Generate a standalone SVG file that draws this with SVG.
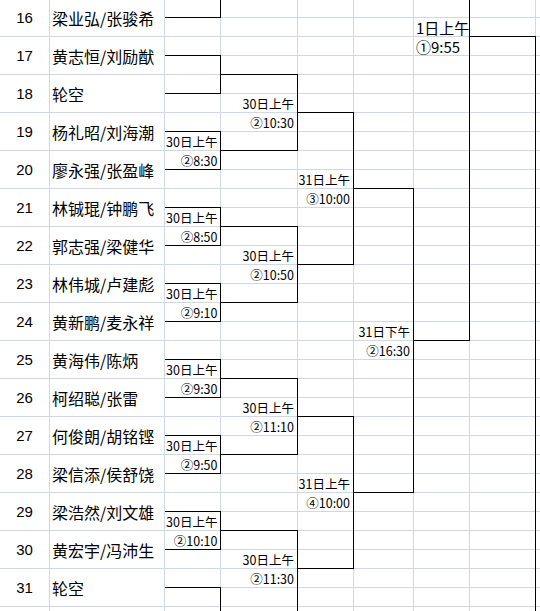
<svg xmlns="http://www.w3.org/2000/svg" width="540" height="611" viewBox="0 0 540 611">
<style>
.grid{fill:none;stroke:#d0d7e5;stroke-width:1;shape-rendering:crispEdges}
.br{fill:none;stroke:#000;stroke-width:1;shape-rendering:crispEdges}
.num{font-family:"Liberation Sans","DejaVu Sans",sans-serif;font-size:15px;fill:#000;text-anchor:middle}
.name{font-family:"Noto Sans CJK SC",sans-serif;font-size:16px;fill:#000}
.lb{font-family:"Noto Sans CJK SC",sans-serif;font-size:12.5px;fill:#000;text-anchor:end}
.lbe{font-family:"Noto Sans CJK SC",sans-serif;font-size:15px;fill:#000}
</style>
<rect width="540" height="611" fill="#fff"/>
<g id="grid">
<path class="grid" d="M49.5 0V611M164.5 0V611M220.5 0V611M297.5 0V611M353.5 0V611M413.5 0V611M469.5 0V611M535.5 0V611"/>
<path class="grid" d="M0 36.5H164M0 74.5H164M0 112.5H164M0 150.5H164M0 188.5H164M0 226.5H164M0 264.5H164M0 302.5H164M0 340.5H164M0 378.5H164M0 416.5H164M0 454.5H164M0 492.5H164M0 530.5H164M0 568.5H164M0 606.5H164"/>
<path class="grid" d="M164 17.5H540M164 36.5H540M164 55.5H540M164 74.5H540M164 93.5H540M164 112.5H540M164 131.5H540M164 150.5H540M164 169.5H540M164 188.5H540M164 207.5H540M164 226.5H540M164 245.5H540M164 264.5H540M164 283.5H540M164 302.5H540M164 321.5H540M164 340.5H540M164 359.5H540M164 378.5H540M164 397.5H540M164 416.5H540M164 435.5H540M164 454.5H540M164 473.5H540M164 492.5H540M164 511.5H540M164 530.5H540M164 549.5H540M164 568.5H540M164 587.5H540M164 606.5H540"/>
</g>
<g id="connectors">
<path class="br" d="M164.5 17.5H220.5V0"/>
<path class="br" d="M164.5 55.5H220.5V93.5H164.5"/>
<path class="br" d="M164.5 131.5H220.5V169.5H164.5"/>
<path class="br" d="M164.5 207.5H220.5V245.5H164.5"/>
<path class="br" d="M164.5 283.5H220.5V321.5H164.5"/>
<path class="br" d="M164.5 359.5H220.5V397.5H164.5"/>
<path class="br" d="M164.5 435.5H220.5V473.5H164.5"/>
<path class="br" d="M164.5 511.5H220.5V549.5H164.5"/>
<path class="br" d="M164.5 587.5H220.5V611"/>
<path class="br" d="M220.5 74.5H297.5V150.5H220.5"/>
<path class="br" d="M220.5 226.5H297.5V302.5H220.5"/>
<path class="br" d="M220.5 378.5H297.5V454.5H220.5"/>
<path class="br" d="M220.5 530.5H297.5V611"/>
<path class="br" d="M297.5 112.5H353.5V264.5H297.5"/>
<path class="br" d="M297.5 416.5H353.5V568.5H297.5"/>
<path class="br" d="M353.5 188.5H413.5V492.5H353.5"/>
<path class="br" d="M413.5 340.5H469.5V0"/>
<path class="br" d="M469.5 36.5H535.5V611"/>
</g>
<g id="p16"><text class="num" x="24.5" y="23">16</text><text class="name" x="52" y="24.5">梁业弘/张骏希</text></g>
<g id="p17"><text class="num" x="24.5" y="61">17</text><text class="name" x="52" y="62.5">黄志恒/刘励猷</text></g>
<g id="p18"><text class="num" x="24.5" y="99">18</text><text class="name" x="52" y="100.5">轮空</text></g>
<g id="p19"><text class="num" x="24.5" y="137">19</text><text class="name" x="52" y="138.5">杨礼昭/刘海潮</text></g>
<g id="p20"><text class="num" x="24.5" y="175">20</text><text class="name" x="52" y="176.5">廖永强/张盈峰</text></g>
<g id="p21"><text class="num" x="24.5" y="213">21</text><text class="name" x="52" y="214.5">林铖琨/钟鹏飞</text></g>
<g id="p22"><text class="num" x="24.5" y="251">22</text><text class="name" x="52" y="252.5">郭志强/梁健华</text></g>
<g id="p23"><text class="num" x="24.5" y="289">23</text><text class="name" x="52" y="290.5">林伟城/卢建彪</text></g>
<g id="p24"><text class="num" x="24.5" y="327">24</text><text class="name" x="52" y="328.5">黄新鹏/麦永祥</text></g>
<g id="p25"><text class="num" x="24.5" y="365">25</text><text class="name" x="52" y="366.5">黄海伟/陈炳</text></g>
<g id="p26"><text class="num" x="24.5" y="403">26</text><text class="name" x="52" y="404.5">柯绍聪/张雷</text></g>
<g id="p27"><text class="num" x="24.5" y="441">27</text><text class="name" x="52" y="442.5">何俊朗/胡铭铿</text></g>
<g id="p28"><text class="num" x="24.5" y="479">28</text><text class="name" x="52" y="480.5">梁信添/侯舒饶</text></g>
<g id="p29"><text class="num" x="24.5" y="517">29</text><text class="name" x="52" y="518.5">梁浩然/刘文雄</text></g>
<g id="p30"><text class="num" x="24.5" y="555">30</text><text class="name" x="52" y="556.5">黄宏宇/冯沛生</text></g>
<g id="p31"><text class="num" x="24.5" y="593">31</text><text class="name" x="52" y="594.5">轮空</text></g>
<g id="m830"><text class="lb" x="217.5" y="146.5">30日上午</text><text class="lb" x="217.5" y="165.5">②8:30</text></g>
<g id="m850"><text class="lb" x="217.5" y="222.5">30日上午</text><text class="lb" x="217.5" y="241.5">②8:50</text></g>
<g id="m910"><text class="lb" x="217.5" y="298.5">30日上午</text><text class="lb" x="217.5" y="317.5">②9:10</text></g>
<g id="m930"><text class="lb" x="217.5" y="374.5">30日上午</text><text class="lb" x="217.5" y="393.5">②9:30</text></g>
<g id="m950"><text class="lb" x="217.5" y="450.5">30日上午</text><text class="lb" x="217.5" y="469.5">②9:50</text></g>
<g id="m1010"><text class="lb" x="217.5" y="526.5">30日上午</text><text class="lb" x="217.5" y="545.5">②10:10</text></g>
<g id="m1030"><text class="lb" x="294" y="108.5">30日上午</text><text class="lb" x="294" y="127.5">②10:30</text></g>
<g id="m1050"><text class="lb" x="294" y="260.5">30日上午</text><text class="lb" x="294" y="279.5">②10:50</text></g>
<g id="m1110"><text class="lb" x="294" y="412.5">30日上午</text><text class="lb" x="294" y="431.5">②11:10</text></g>
<g id="m1130"><text class="lb" x="294" y="564.5">30日上午</text><text class="lb" x="294" y="583.5">②11:30</text></g>
<g id="m3a"><text class="lb" x="350" y="184.5">31日上午</text><text class="lb" x="350" y="203.5">③10:00</text></g>
<g id="m4a"><text class="lb" x="350" y="488.5">31日上午</text><text class="lb" x="350" y="507.5">④10:00</text></g>
<g id="m1630"><text class="lb" x="410" y="336.5">31日下午</text><text class="lb" x="410" y="355.5">②16:30</text></g>
<g id="m955"><text class="lbe" x="416" y="33.5">1日上午</text><text class="lbe" x="416" y="53">①9:55</text></g>
</svg>
